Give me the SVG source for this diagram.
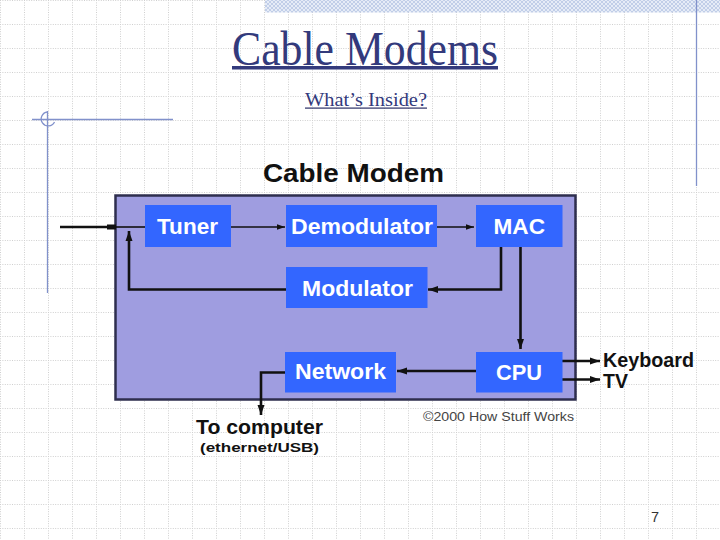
<svg xmlns="http://www.w3.org/2000/svg" width="720" height="540" viewBox="0 0 720 540">
  <style>
    .title { font-family: "Liberation Serif", "Times New Roman", serif; fill: #333a7c; }
    .box { fill: #3366ff; }
    .lbl { font-family: "Liberation Sans", Arial, sans-serif; font-weight: bold; fill: #ffffff; font-size: 22px; }
    .ext { font-family: "Liberation Sans", Arial, sans-serif; font-weight: bold; fill: #111111; }
    .thick { stroke: #111111; stroke-width: 2.6; fill: none; }
    .thin { stroke: #111111; stroke-width: 1.6; fill: none; }
    .deco { stroke: #8191cb; stroke-width: 1.3; fill: none; }
  </style>
  <defs>
    <pattern id="grid" patternUnits="userSpaceOnUse" x="0" y="0" width="24" height="24">
      <path d="M0.5 0 V24 M0 0.5 H24" stroke="#cfcfcf" stroke-width="1" stroke-dasharray="1,1.4"/>
    </pattern>
    <pattern id="hatch" patternUnits="userSpaceOnUse" width="4" height="4">
      <rect width="4" height="4" fill="#e6ecf7"/>
      <path d="M0 4 L4 0 M0 0 L4 4" stroke="#b8c6e4" stroke-width="0.8"/>
    </pattern>
    <marker id="ah" viewBox="0 0 10 10" refX="10" refY="5" markerWidth="4" markerHeight="4" orient="auto" markerUnits="strokeWidth">
      <path d="M0 1.5 L10 5 L0 8.5 Z" fill="#111111"/>
    </marker>
    <marker id="ahs" viewBox="0 0 10 10" refX="10" refY="5" markerWidth="6" markerHeight="5" orient="auto" markerUnits="strokeWidth">
      <path d="M0 1.5 L10 5 L0 8.5 Z" fill="#111111"/>
    </marker>
  </defs>

  <!-- background -->
  <rect width="720" height="540" fill="#ffffff"/>
  <rect width="720" height="540" fill="url(#grid)"/>
  <rect x="265" y="0" width="455" height="12.5" fill="url(#hatch)"/>
  <line class="deco" x1="696.5" y1="0" x2="696.5" y2="186"/>
  <line class="deco" x1="32" y1="119.5" x2="173" y2="119.5"/>
  <line class="deco" x1="47.5" y1="111" x2="47.5" y2="293"/>
  <path class="deco" d="M47.5 112 A7 7 0 1 0 54.5 122"/>

  <!-- titles -->
  <text class="title" x="365" y="65" font-size="48" text-anchor="middle" textLength="266" lengthAdjust="spacingAndGlyphs">Cable Modems</text>
  <rect x="232" y="66" width="266" height="3.5" fill="#333a7c"/>
  <text class="title" x="366" y="106" font-size="19" text-anchor="middle" textLength="122" lengthAdjust="spacingAndGlyphs" fill="#2b2f66">What’s Inside?</text>
  <rect x="305" y="107.5" width="122" height="1.2" fill="#2b2f66"/>

  <!-- diagram -->
  <text class="ext" x="263" y="181.5" font-size="26" textLength="181" lengthAdjust="spacingAndGlyphs">Cable Modem</text>
  <rect id="modem" x="115.5" y="195.5" width="460" height="204" fill="#9f9de0" stroke="#2e2e4e" stroke-width="2.5"/>

  <g id="connectors">
    <line x1="60" y1="227" x2="116" y2="227" stroke="#111111" stroke-width="2.4"/>
    <rect x="107" y="224.5" width="9" height="5" fill="#111111"/>
    <line class="thin" x1="116" y1="227" x2="145" y2="227"/>
    <line class="thin" x1="231" y1="227" x2="285" y2="227" marker-end="url(#ahs)"/>
    <line class="thin" x1="437" y1="227" x2="474" y2="227" marker-end="url(#ahs)"/>
    <polyline class="thick" points="501,247 501,289.5 428,289.5" marker-end="url(#ah)"/>
    <polyline class="thick" points="286,289.5 129,289.5 129,231" marker-end="url(#ah)"/>
    <line class="thick" x1="520.5" y1="247" x2="520.5" y2="349" marker-end="url(#ah)"/>
    <line class="thick" x1="476" y1="371" x2="397" y2="371" marker-end="url(#ah)"/>
    <line class="thick" x1="562" y1="361" x2="600" y2="361" marker-end="url(#ah)"/>
    <line class="thick" x1="562" y1="379.5" x2="600" y2="379.5" marker-end="url(#ah)"/>
    <polyline class="thick" points="285,372.5 261,372.5 261,415" marker-end="url(#ah)"/>
  </g>

  <g id="tuner">
    <rect class="box" x="145" y="205" width="86" height="42"/>
    <text class="lbl" x="157" y="233.5" textLength="61" lengthAdjust="spacingAndGlyphs">Tuner</text>
  </g>
  <g id="demodulator">
    <rect class="box" x="286" y="205" width="151" height="42"/>
    <text class="lbl" x="291" y="234" textLength="142" lengthAdjust="spacingAndGlyphs">Demodulator</text>
  </g>
  <g id="mac">
    <rect class="box" x="476" y="205" width="86.5" height="42"/>
    <text class="lbl" x="493.5" y="234" textLength="51.5" lengthAdjust="spacingAndGlyphs">MAC</text>
  </g>
  <g id="modulator">
    <rect class="box" x="286" y="267" width="141.5" height="41"/>
    <text class="lbl" x="302" y="296" textLength="111" lengthAdjust="spacingAndGlyphs">Modulator</text>
  </g>
  <g id="network">
    <rect class="box" x="285" y="352" width="111" height="40.5"/>
    <text class="lbl" x="295" y="378.5" textLength="91" lengthAdjust="spacingAndGlyphs">Network</text>
  </g>
  <g id="cpu">
    <rect class="box" x="476" y="352" width="86.5" height="40.5"/>
    <text class="lbl" x="496" y="380" textLength="46" lengthAdjust="spacingAndGlyphs">CPU</text>
  </g>

  <g id="keyboard">
    <text class="ext" x="603" y="367" font-size="19.5" textLength="91" lengthAdjust="spacingAndGlyphs">Keyboard</text>
  </g>
  <g id="tv">
    <text class="ext" x="603" y="387.5" font-size="19.5">TV</text>
  </g>
  <g id="computer">
    <text class="ext" x="196" y="433.5" font-size="19.5" textLength="127" lengthAdjust="spacingAndGlyphs">To computer</text>
    <text class="ext" x="200" y="451.5" font-size="13" textLength="119" lengthAdjust="spacingAndGlyphs">(ethernet/USB)</text>
  </g>
  <text x="423" y="420.5" font-family="'Liberation Sans', Arial, sans-serif" font-size="12.5" fill="#444444" textLength="151" lengthAdjust="spacingAndGlyphs">©2000 How Stuff Works</text>

  <text x="651" y="522" font-family="'Liberation Sans', Arial, sans-serif" font-size="14.5" fill="#333333">7</text>
</svg>
